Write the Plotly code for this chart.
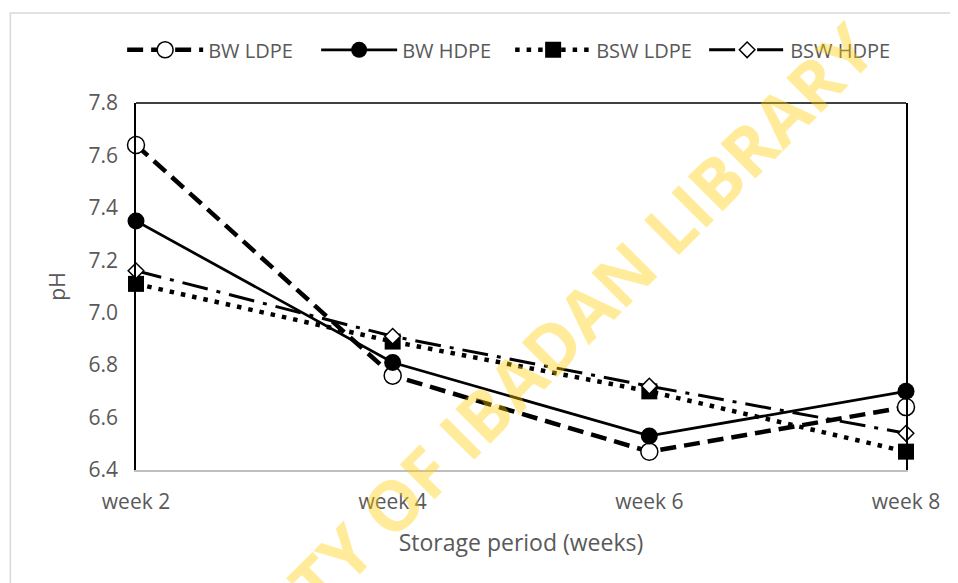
import plotly.graph_objects as go

weeks = ["week 2", "week 4", "week 6", "week 8"]
bw_ldpe = [7.64, 6.76, 6.47, 6.64]
bw_hdpe = [7.35, 6.81, 6.53, 6.70]
bsw_ldpe = [7.11, 6.89, 6.70, 6.47]
bsw_hdpe = [7.16, 6.91, 6.72, 6.54]
y_ticks = [6.4, 6.6, 6.8, 7.0, 7.2, 7.4, 7.6, 7.8]

FONT = "Open Sans"
GREY = "#595959"

fig = go.Figure()
fig.add_trace(go.Scatter(
    x=weeks, y=bw_ldpe, name="BW LDPE", mode="lines+markers", cliponaxis=False,
    line=dict(color="black", width=4.5, dash="16px,8px"),
    marker=dict(symbol="circle", size=17, color="white", line=dict(color="black", width=1.5))))
fig.add_trace(go.Scatter(
    x=weeks, y=bw_hdpe, name="BW HDPE", mode="lines+markers", cliponaxis=False,
    line=dict(color="black", width=2.75),
    marker=dict(symbol="circle", size=17, color="black")))
fig.add_trace(go.Scatter(
    x=weeks, y=bsw_ldpe, name="BSW LDPE", mode="lines+markers", cliponaxis=False,
    line=dict(color="black", width=4.5, dash="4.5px,7px"),
    marker=dict(symbol="square", size=16, color="black")))
fig.add_trace(go.Scatter(
    x=weeks, y=bsw_hdpe, name="BSW HDPE", mode="lines+markers", cliponaxis=False,
    line=dict(color="black", width=3, dash="26px,9px,4px,9px"),
    marker=dict(symbol="diamond", size=12, color="white", line=dict(color="black", width=1.5))))

fig.update_layout(
    width=950, height=575,
    margin=dict(l=128, r=52, t=95, b=113),
    paper_bgcolor="white", plot_bgcolor="white",
    font=dict(family=FONT, size=21, color=GREY),
    showlegend=True,
    legend=dict(orientation="h", x=-0.018, xanchor="left", y=1.145, yanchor="middle",
                font=dict(family=FONT, size=20, color=GREY), itemwidth=76,
                entrywidth=103, entrywidthmode="pixels",
                bgcolor="rgba(0,0,0,0)"),
    xaxis=dict(type="category", range=[0, 3], showgrid=False, showline=True,
               linecolor="#BFBFBF", linewidth=2, ticks="", ticklen=0,
               ticklabelstandoff=12,
               tickfont=dict(family=FONT, size=21, color=GREY),
               title=dict(text="Storage period (weeks)", font=dict(family=FONT, size=23, color=GREY),
                          standoff=21),
               zeroline=False),
    yaxis=dict(range=[6.4, 7.8], tickvals=y_ticks, tickformat=".1f", showgrid=False,
               showline=True, linecolor="black", linewidth=1.5, mirror=True, ticks="",
               ticklabelstandoff=12,
               tickfont=dict(family=FONT, size=21, color=GREY),
               title=dict(text="pH", font=dict(family=FONT, size=21, color=GREY), standoff=17),
               zeroline=False),
    shapes=[
        dict(type="line", xref="paper", yref="paper", x0=0, x1=1, y0=1, y1=1,
             line=dict(color="black", width=1.5)),
        dict(type="rect", xref="paper", yref="paper", x0=-0.1632, x1=1.12, y0=-0.4, y1=1.245,
             line=dict(color="#D9D9D9", width=1.5), layer="below"),
    ],
    annotations=[
        dict(text="<b>UNIVERSITY OF IBADAN LIBRARY</b>", xref="paper", yref="paper",
             x=0.431, y=0.114, xanchor="center", yanchor="middle", showarrow=False,
             textangle=-45,
             font=dict(family=FONT, size=69, color="rgba(255,204,0,0.4)")),
    ],
)

fig.write_html("out.html")
